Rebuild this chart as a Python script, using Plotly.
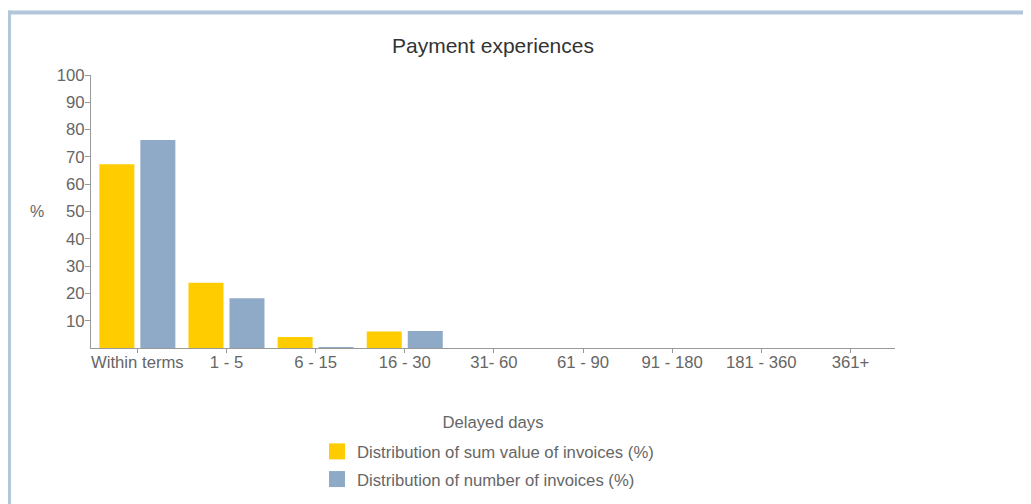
import plotly.graph_objects as go

categories = ["Within terms", "1 - 5", "6 - 15", "16 - 30", "31- 60", "61 - 90", "91 - 180", "181 - 360", "361+"]
sum_value_pct = [67.3, 23.9, 4.0, 6.0, 0, 0, 0, 0, 0]
number_pct = [76.2, 18.2, 0.3, 6.2, 0, 0, 0, 0, 0]
y_ticks = [10, 20, 30, 40, 50, 60, 70, 80, 90, 100]
series_names = ["Distribution of sum value of invoices (%)", "Distribution of number of invoices (%)"]
series_colors = ["#FFCC00", "#8FAAC6"]

OFF = 8  # default page body margin
W, H = 1031 - OFF, 504 - OFF
# plot area in window pixels
L, R, T, B = 91, 895, 75, 348
def px(x):
    return (x - L) / (R - L)
def py(y):
    return (B - y) / (B - T)

fig = go.Figure()
for vals, name, col in zip([sum_value_pct, number_pct], series_names, series_colors):
    fig.add_trace(go.Bar(x=categories, y=vals, name=name, showlegend=False,
                         marker=dict(color=col, line=dict(width=0))))
# legend entries (square swatches)
for i, (name, col) in enumerate(zip(series_names, series_colors)):
    fig.add_trace(go.Scatter(x=[None], y=[None], mode="markers", name=name, legendgroup=str(i),
                             marker=dict(symbol="square", size=16, color=col, line=dict(width=0))))

border = "#B3C7DB"
fig.add_shape(type="line", xref="paper", yref="paper", x0=px(3), x1=px(1040), y0=py(12.5), y1=py(12.5),
              line=dict(color=border, width=4))
fig.add_shape(type="line", xref="paper", yref="paper", x0=px(9), x1=px(9), y0=py(10.5), y1=py(520),
              line=dict(color=border, width=4))

fig.add_annotation(text="%", xref="paper", yref="paper", x=px(37), y=py(211), showarrow=False,
                   font=dict(size=16, color="#666666"), xanchor="center", yanchor="middle")

fig.update_layout(
    width=W, height=H,
    margin=dict(l=L - OFF, r=W - (R - OFF), t=T - OFF, b=H - (B - OFF), autoexpand=False),
    paper_bgcolor="white", plot_bgcolor="white",
    font=dict(family="Liberation Sans, Arial, sans-serif", color="#666666", size=16.7),
    title=dict(text="Payment experiences", x=0.5, xref="paper", xanchor="center",
               y=1 - (46 - OFF) / H, yanchor="middle", font=dict(size=21, color="#333333")),
    barmode="group", bargap=0.08, bargroupgap=0.146,
    showlegend=True,
    legend=dict(x=px(317), y=py(434), xanchor="left", yanchor="top",
                font=dict(size=16.7, color="#666666"), tracegroupgap=3, bgcolor="rgba(0,0,0,0)"),
    xaxis=dict(range=[-0.52, 8.5], showline=True, linecolor="#999999", linewidth=1, ticks="outside",
               ticklen=4, tickcolor="#999999", showgrid=False, zeroline=False, ticklabelstandoff=-5,
               title=dict(text="Delayed days", standoff=45, font=dict(size=16.7, color="#666666")),
               tickfont=dict(size=16.7, color="#666666")),
    yaxis=dict(range=[0, 100], showline=True, linecolor="#999999", linewidth=1, ticks="outside",
               ticklen=5, tickcolor="#999999", showgrid=False, zeroline=False, ticklabelstandoff=-3,
               tickvals=y_ticks, tickfont=dict(size=16.7, color="#666666")),
)

fig.write_html("out.html")
